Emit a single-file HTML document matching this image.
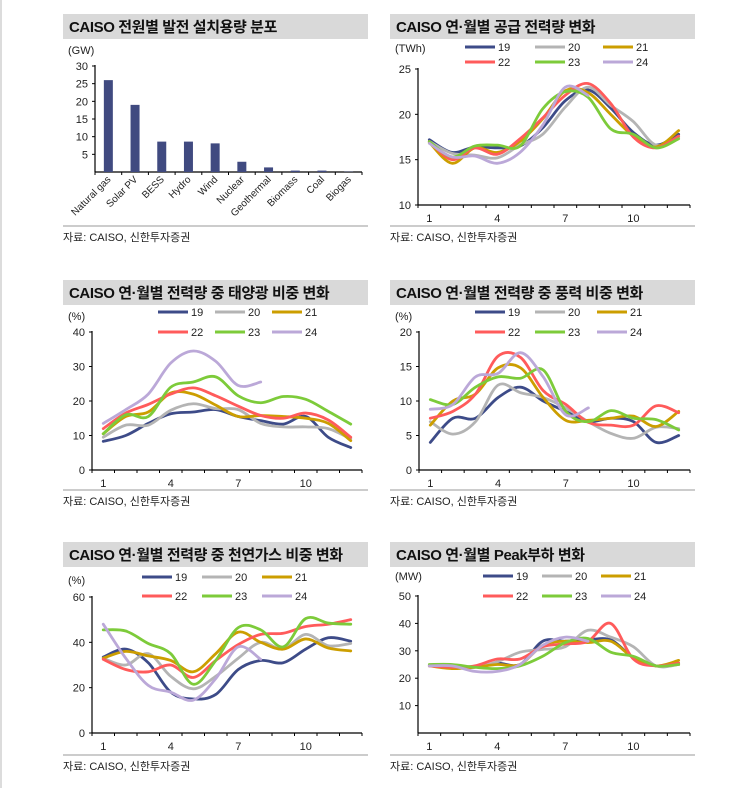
<!DOCTYPE html>
<html><head><meta charset="utf-8"><style>
html,body{margin:0;padding:0;background:#fff;width:755px;height:788px;overflow:hidden}
svg{display:block;font-family:"Liberation Sans","Noto Sans CJK KR",sans-serif}
</style></head><body>
<svg id="root" width="755" height="788" viewBox="0 0 755 788" xmlns="http://www.w3.org/2000/svg">
<line x1="1" y1="0" x2="1" y2="788" stroke="#d0d0d0" stroke-width="1.5"/>
</svg>
<script>
const NS="http://www.w3.org/2000/svg";
const root=document.getElementById('root');
const years=['19','20','21','22','23','24'];
const colors={'19':'#3d4b88','20':'#b4b4b4','21':'#cc9e00','22':'#ff5b5b','23':'#7dcb3a','24':'#bba8d8'};
const barCats=['Natural gas','Solar PV','BESS','Hydro','Wind','Nuclear','Geothermal','Biomass','Coal','Biogas'];
const barVals=[26,19,8.6,8.6,8.1,2.9,1.3,0.4,0.4,0.1];
const barTicks=[5,10,15,20,25,30];
const months=[1,2,3,4,5,6,7,8,9,10,11,12];
const monthLabels=['1','4','7','10'];
const supply19=[17.2,15.8,16.4,16.3,16.5,18.5,21.5,22.7,20.7,18.0,16.6,17.8];
const supply20=[17.0,15.7,15.5,15.2,16.6,17.8,20.8,23.0,21.0,19.2,16.6,17.5];
const supply21=[16.9,14.6,16.3,15.8,17.0,19.5,22.6,22.4,20.0,17.6,16.4,18.2];
const supply22=[17.0,15.0,16.3,15.6,17.3,19.6,22.1,23.4,21.2,17.5,16.3,17.6];
const supply23=[17.0,15.3,16.5,16.6,16.5,20.6,22.5,21.9,18.4,17.8,16.3,17.3];
const supply24=[16.8,15.3,15.4,14.6,15.8,18.8,23.0,22.1];
const solar19=[8.3,10.0,13.5,16.3,16.8,17.5,15.5,14.3,13.3,15.5,9.5,6.5];
const solar20=[9.5,13.0,13.0,17.3,19.2,17.8,17.5,13.5,12.5,12.5,12.0,9.0];
const solar21=[10.5,15.5,16.8,22.3,22.0,18.8,15.5,15.8,15.5,15.0,13.5,8.5];
const solar22=[12.0,16.5,19.0,22.0,23.8,21.5,18.5,15.8,15.0,16.5,14.5,9.5];
const solar23=[10.5,16.0,15.5,24.0,25.5,27.0,21.5,19.5,21.3,20.5,17.0,13.3];
const solar24=[13.5,17.5,22.0,31.0,34.5,31.5,24.5,25.5];
const wind19=[4.0,7.5,7.5,10.5,12.0,10.0,8.5,7.0,7.5,7.0,4.0,5.0];
const wind20=[7.0,5.2,7.0,12.3,11.2,10.5,9.0,7.0,5.3,4.6,6.2,6.0];
const wind21=[6.5,10.0,11.0,14.8,14.8,10.5,7.2,7.2,7.5,7.8,6.3,8.5];
const wind22=[7.5,8.5,11.0,16.5,16.3,11.5,9.5,6.9,6.5,6.5,9.3,8.3];
const wind23=[10.2,9.5,12.0,13.5,13.3,14.5,8.5,7.0,8.6,7.5,7.3,5.8];
const wind24=[8.8,9.5,13.5,14.0,17.0,13.5,8.0,9.0];
const gas19=[33.5,37,31,18,15,17,28,32,31,37,42,40.5];
const gas20=[33,30,35,25,19.5,25,33,40,37,43.5,38.5,39.5];
const gas21=[33,36,34,32,27,35,44.5,40,37,41.5,37.5,36.2];
const gas22=[32.5,28,27,30,24.5,32,39,43.5,44,47,48,50];
const gas23=[45.5,45,39.5,35,21.5,32,46.5,45.5,38,50.5,48.5,48];
const gas24=[48,33,21,18,14.5,24,38,32.5];
const peak19=[24.5,24.5,24,25.5,25,33.5,33.5,34,34,27.5,24.5,25.5];
const peak20=[24.5,24.5,24,26,29.5,30.5,31.5,37.5,35,31.5,24.5,25];
const peak21=[24.5,23.5,24,25,25,32,33.5,33,33.5,27.5,24.5,26.5];
const peak22=[24.5,24,24.5,27,27,31.5,32.5,33.5,40,27,24.5,25.5];
const peak23=[25,25,24,23.5,24.5,28,33,34.5,29.5,28,24.5,25];
const peak24=[24.5,24.5,22.5,22.5,25,32,35,33.5];

function mk(tag,attrs,parent){const e=document.createElementNS(NS,tag);for(const k in attrs)e.setAttribute(k,attrs[k]);(parent||root).appendChild(e);return e;}
function txt(x,y,s,size,anchor,parent,extra){const t=mk('text',Object.assign({x:x,y:y,'font-size':size,'text-anchor':anchor||'start',fill:'#222'},extra||{}),parent);t.textContent=s;return t;}

function panelFrame(x,y,title,unit,unitY,footY){
  const g=mk('g',{});
  
  
  const r=mk('rect',{x:x,y:y,width:305,height:25,fill:'#d9d9d9'},g);
  
  
  const t=txt(x+6,y+18,title,15,'start',g,{'font-weight':'bold',fill:'#111','letter-spacing':'-0.4'});
  
  
  const u=txt(x+5,unitY,unit,11,'start',g);
  
  
  mk('line',{x1:x,y1:footY,x2:x+305,y2:footY,stroke:'#999','stroke-width':1},g);
  const f=txt(x,footY+15,'자료: CAISO, 신한투자증권',11,'start',g);
  
  
  return g;
}

function axes(g,x0,x1,yTop,yBot,vmin,vmax,ticks,ncat){
  const ys=v=>yBot-(v-vmin)/(vmax-vmin)*(yBot-yTop);
  const ax=mk('g',{},g);
  
  
  mk('line',{x1:x0,y1:yTop-1,x2:x0,y2:yBot,stroke:'#000','stroke-width':1.2},ax);
  mk('line',{x1:x0,y1:yBot,x2:x1,y2:yBot,stroke:'#000','stroke-width':1.2},ax);
  ticks.forEach(v=>{const y=ys(v);mk('line',{x1:x0-3,y1:y,x2:x0,y2:y,stroke:'#000'},ax);
    const l=txt(x0-7,y+4,String(v),11,'end',ax);
    
    });
  const step=(x1-x0)/ncat;
  for(let i=0;i<=ncat;i++)mk('line',{x1:x0+i*step,y1:yBot,x2:x0+i*step,y2:yBot+3,stroke:'#000'},ax);
  return {ys:ys,xs:i=>x0+step*(i+0.5),step:step};
}

function smoothPath(pts){
  let d='M'+pts[0][0]+','+pts[0][1];
  for(let i=0;i<pts.length-1;i++){
    const p0=pts[i-1]||pts[i],p1=pts[i],p2=pts[i+1],p3=pts[i+2]||p2;
    const c1=[p1[0]+(p2[0]-p0[0])/6,p1[1]+(p2[1]-p0[1])/6];
    const c2=[p2[0]-(p3[0]-p1[0])/6,p2[1]-(p3[1]-p1[1])/6];
    d+=' C'+c1[0]+','+c1[1]+' '+c2[0]+','+c2[1]+' '+p2[0]+','+p2[1];
  }
  return d;
}

function lineChart(cfg){
  const g=panelFrame(cfg.px,cfg.py,cfg.title,cfg.unit,cfg.unitY,cfg.footY);
  const a=axes(g,cfg.x0,cfg.x1,cfg.yTop,cfg.yBot,cfg.vmin,cfg.vmax,cfg.ticks,12);
  [0,3,6,9].forEach((mi,k)=>{const l=txt(a.xs(mi),cfg.yBot+17,monthLabels[k],11,'middle',g);
    
    });
  years.forEach((yr,k)=>{
    const col=k%3,row=Math.floor(k/3);
    const lx=cfg.legX[col],ly=cfg.legY[row];
    const le=mk('g',{},g);
    
    
    mk('line',{x1:lx,y1:ly,x2:lx+30,y2:ly,stroke:colors[yr],'stroke-width':3},le);
    txt(lx+33,ly+4,yr,11,'start',le);
  });
  years.forEach((yr,k)=>{
    const vals=cfg.series[k];
    const pts=vals.map((v,i)=>[a.xs(i),a.ys(v)]);
    const p=mk('path',{d:smoothPath(pts),fill:'none',stroke:colors[yr],'stroke-width':2.8,'stroke-linejoin':'round','stroke-linecap':'round'},g);
    
    
  });
}

(function(){
  const g=panelFrame(63,14,'CAISO 전원별 발전 설치용량 분포','(GW)',54,226);
  const a=axes(g,95,362,66,172,0,30,barTicks,10);
  barCats.forEach((c,i)=>{
    const x=a.xs(i),y=a.ys(barVals[i]);
    const b=mk('rect',{x:x-4.5,y:y,width:9,height:172-y,fill:'#404a80'},g);
    
    
    const l=txt(x+3,180,c,10,'end',g,{transform:'rotate(-45 '+(x+3)+' 180)'});
    
    
  });
})();

lineChart({px:390,py:14,title:'CAISO 연·월별 공급 전력량 변화',unit:'(TWh)',unitY:52,footY:226,
  x0:418,x1:690,yTop:69,yBot:205,vmin:10,vmax:25,ticks:[10,15,20,25],
  legX:[465,535,603],legY:[47,62],series:[supply19,supply20,supply21,supply22,supply23,supply24]});
lineChart({px:63,py:280,title:'CAISO 연·월별 전력량 중 태양광 비중 변화',unit:'(%)',unitY:320,footY:490,
  x0:92,x1:362,yTop:332,yBot:470,vmin:0,vmax:40,ticks:[0,10,20,30,40],
  legX:[158,215,272],legY:[312,332],series:[solar19,solar20,solar21,solar22,solar23,solar24]});
lineChart({px:390,py:280,title:'CAISO 연·월별 전력량 중 풍력 비중 변화',unit:'(%)',unitY:320,footY:490,
  x0:419,x1:690,yTop:332,yBot:470,vmin:0,vmax:20,ticks:[0,5,10,15,20],
  legX:[475,535,597],legY:[312,332],series:[wind19,wind20,wind21,wind22,wind23,wind24]});
lineChart({px:63,py:542,title:'CAISO 연·월별 전력량 중 천연가스 비중 변화',unit:'(%)',unitY:584,footY:755,
  x0:92,x1:362,yTop:597,yBot:733,vmin:0,vmax:60,ticks:[0,20,40,60],
  legX:[142,202,262],legY:[577,596],series:[gas19,gas20,gas21,gas22,gas23,gas24]});
lineChart({px:390,py:542,title:'CAISO 연·월별 Peak부하 변화',unit:'(MW)',unitY:580,footY:755,
  x0:418,x1:690,yTop:596,yBot:733,vmin:0,vmax:50,ticks:[10,20,30,40,50],
  legX:[483,542,601],legY:[576,596],series:[peak19,peak20,peak21,peak22,peak23,peak24]});
</script>
</body></html>
